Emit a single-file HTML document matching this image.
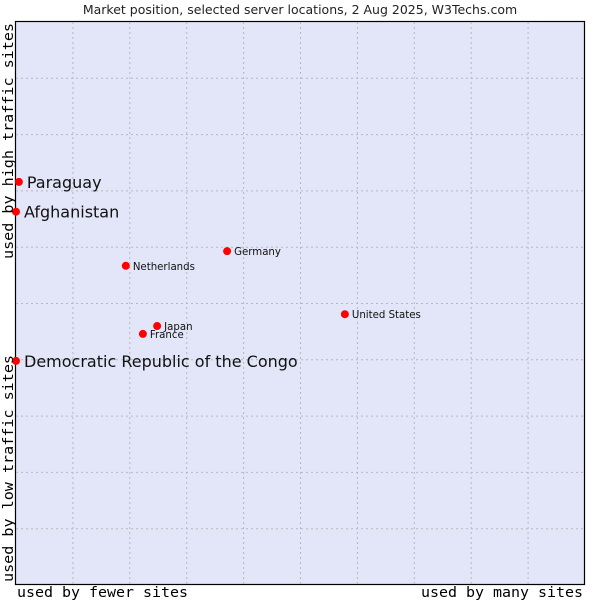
<!DOCTYPE html>
<html><head><meta charset="utf-8"><style>
html,body{margin:0;padding:0;background:#fff;}
svg{display:block;}
</style></head><body>
<svg id="chart" width="600" height="600" xmlns="http://www.w3.org/2000/svg">
<text x="300" y="14" text-anchor="middle" font-family="DejaVu Sans, sans-serif" font-size="12.5" fill="#222">Market position, selected server locations, 2 Aug 2025, W3Techs.com</text>
<rect x="15.5" y="21.5" width="569" height="563" fill="#e3e5f8" stroke="#000" stroke-width="1.2"/>
<g id="grid"></g>
<g id="points"></g>
<text x="17" y="597" textLength="171" lengthAdjust="spacingAndGlyphs" font-family="DejaVu Sans Mono, Liberation Mono, monospace" font-size="14.5" fill="#000">used by fewer sites</text>
<text x="421" y="597" textLength="162" lengthAdjust="spacingAndGlyphs" font-family="DejaVu Sans Mono, Liberation Mono, monospace" font-size="14.5" fill="#000">used by many sites</text>
<text transform="translate(13,259) rotate(-90)" textLength="236" lengthAdjust="spacingAndGlyphs" font-family="DejaVu Sans Mono, Liberation Mono, monospace" font-size="14.5" fill="#000">used by high traffic sites</text>
<text transform="translate(13,582) rotate(-90)" textLength="227" lengthAdjust="spacingAndGlyphs" font-family="DejaVu Sans Mono, Liberation Mono, monospace" font-size="14.5" fill="#000">used by low traffic sites</text>
</svg>
<script>
const names = ["Paraguay","Afghanistan","Democratic Republic of the Congo","Netherlands","Germany","United States","Japan","France"];
const xValues = [0.5,0,0,19.3,37.1,57.8,24.8,22.3];
const yValues = [71.6,66.3,39.8,56.7,59.3,48.1,46.0,44.6];
const bigLabel = [true,true,true,false,false,false,false,false];
const gridTicks = [10,20,30,40,50,60,70,80,90];

const L=16,R=585,T=22,B=585;
const sx=v=>L+v/100*(R-L);
const sy=v=>B-v/100*(B-T);
const NS="http://www.w3.org/2000/svg";
const grid=document.getElementById('grid');
gridTicks.forEach(t=>{
  const v=document.createElementNS(NS,'line');
  v.setAttribute('x1',sx(t));v.setAttribute('x2',sx(t));v.setAttribute('y1',T);v.setAttribute('y2',B);
  v.setAttribute('stroke','#b8b8b8');v.setAttribute('stroke-dasharray','2,3');
  
  
  grid.appendChild(v);
  const h=document.createElementNS(NS,'line');
  h.setAttribute('y1',sy(t));h.setAttribute('y2',sy(t));h.setAttribute('x1',L);h.setAttribute('x2',R);
  h.setAttribute('stroke','#b8b8b8');h.setAttribute('stroke-dasharray','2,3');
  
  
  grid.appendChild(h);
});
const pts=document.getElementById('points');
names.forEach((n,i)=>{
  const x=sx(xValues[i]),y=sy(yValues[i]);
  const c=document.createElementNS(NS,'circle');
  c.setAttribute('cx',x);c.setAttribute('cy',y);c.setAttribute('r',4);c.setAttribute('fill','#ff0000');
  
  
  pts.appendChild(c);
  const t=document.createElementNS(NS,'text');
  t.setAttribute('x',x+(bigLabel[i]?8:7));
  t.setAttribute('y',y+(bigLabel[i]?6:4));
  t.setAttribute('font-family','DejaVu Sans, sans-serif');
  t.setAttribute('font-size',bigLabel[i]?'16':'10.2');
  t.setAttribute('fill','#111');
  t.textContent=n;
  
  
  pts.appendChild(t);
});
</script>
</body></html>
